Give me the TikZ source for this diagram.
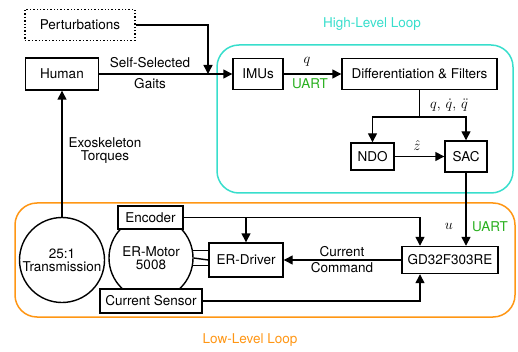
\documentclass[tikz,border=0pt]{standalone}
\usepackage{fontspec}
\setmainfont{TeX Gyre Heros}
\usetikzlibrary{arrows.meta}
\definecolor{hlc}{RGB}{56,222,204}
\definecolor{llc}{RGB}{255,150,20}
\definecolor{uartc}{RGB}{40,175,30}
\begin{document}
\begin{tikzpicture}[x=1pt,y=-1pt,
  every node/.style={font=\fontsize{13.5}{15}\selectfont},
  box/.style={draw, line width=1.4pt, fill=white, inner sep=0pt},
  circ/.style={draw, line width=1.4pt, circle, inner sep=0pt, align=center},
  line/.style={line width=1.4pt},
  arr/.style={line width=1.4pt, -{Triangle[length=9pt,width=9pt]}},
  lbl/.style={inner sep=0pt},
  uart/.style={lbl, text=uartc},
  loopbox/.style={line width=1.5pt, rounded corners=22pt}]
\useasboundingbox (0,0) rectangle (518,352);
% loops
\draw[loopbox, hlc] (217,45) rectangle (513,193);
\draw[loopbox, llc] (15,203) rectangle (515,317);
\node[lbl, text=hlc] (hll) at (372,24) {High-Level Loop};
\node[lbl, text=llc] (lll) at (250,340) {Low-Level Loop};
% nodes
\node[box, dotted, minimum width=110pt, minimum height=31pt] (pert) at (80,25) {Perturbations};
\node[box, minimum width=73pt, minimum height=32pt] (human) at (62,74) {Human};
\node[box, minimum width=50pt, minimum height=31pt] (imu) at (258,74) {IMUs};
\node[box, minimum width=155pt, minimum height=31pt] (diff) at (419.5,74) {Differentiation \& Filters};
\node[box, minimum width=43pt, minimum height=27pt] (ndo) at (372.5,156.5) {NDO};
\node[box, minimum width=42pt, minimum height=31pt] (sac) at (466,156.5) {SAC};
\node[box, minimum width=96pt, minimum height=27pt] (gd) at (450,260) {GD32F303RE};
\node[box, minimum width=74pt, minimum height=34pt] (drv) at (246,260) {ER-Driver};
\node[circ, minimum size=85pt] (trans) at (62,260) {25:1\\[-2pt]Transmission};
\node[circ, minimum size=84pt] (motor) at (151,258) {ER-Motor\\[-2pt]5008};
\node[box, minimum width=65pt, minimum height=23pt] (enc) at (150.5,217.5) {Encoder};
\node[box, minimum width=102pt, minimum height=24pt] (cs) at (151,301) {Current Sensor};
% connectors
\coordinate (merge) at (208,74);
\draw[arr] (pert.east) -| (merge);
\draw[arr] (human.east) -- (imu.west);
\node[lbl] (ssg1) at (150,63) {Self-Selected};
\node[lbl] (ssg2) at (150,84) {Gaits};
\draw[arr] (imu.east) -- (diff.west);
\node[lbl] (ql) at (307,62) {$q$};
\node[uart] (u1) at (310,84) {UART};
\coordinate (split) at (419.5,117);
\draw[line] (diff.south) -- (split);
\draw[arr] (split) -| (ndo.north);
\draw[arr] (split) -| (sac.north);
\node[lbl] (qdl) at (449,105) {$q,\,\dot q,\,\ddot q$};
\draw[arr] (ndo.east) -- (sac.west);
\node[lbl] (zl) at (417,146) {$\hat z$};
\draw[arr] (sac.south) -- (sac.south |- gd.north);
\node[lbl] (ul) at (449,226) {$u$};
\node[uart] (u2) at (490,227) {UART};
\draw[arr] (enc.east) -| ([xshift=-30pt]gd.north);
\draw[arr] (drv.north |- enc.east) -- (drv.north);
\draw[arr] (cs.east) -| ([xshift=-30pt]gd.south);
\draw[arr] (gd.west) -- (drv.east);
\node[lbl] (cc1) at (342,252) {Current};
\node[lbl] (cc2) at (342,268) {Command};
\draw[line] (motor.10) -- (motor.10 -| drv.west);
\draw[line] (motor.east) -- (drv.west);
\draw[line] (motor.-10) -- (motor.-10 -| drv.west);
\draw[arr] (trans.north) -- (human.south);
\node[lbl] (et1) at (105,143) {Exoskeleton};
\node[lbl] (et2) at (105,157) {Torques};
\end{tikzpicture}
\end{document}
